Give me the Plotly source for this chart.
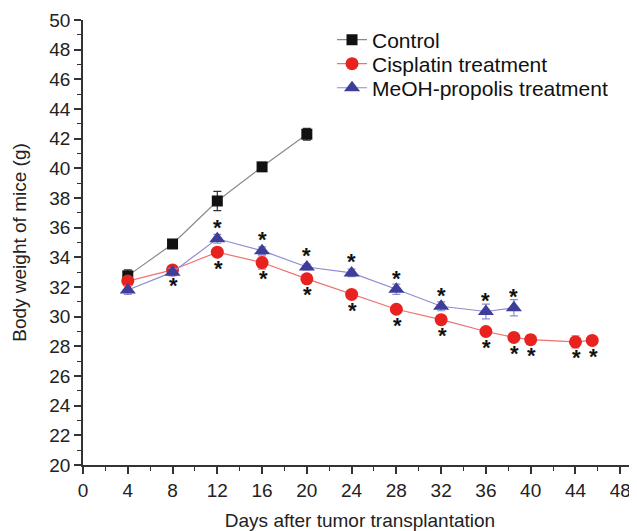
import plotly.graph_objects as go

# Data
control_days = [4, 8, 12, 16, 20]
control_vals = [32.75, 34.9, 37.8, 40.1, 42.3]
control_err = [0.4, 0.2, 0.65, 0.2, 0.4]

cis_days = [4, 8, 12, 16, 20, 24, 28, 32, 36, 38.5, 40, 44, 45.5]
cis_vals = [32.4, 33.15, 34.35, 33.65, 32.55, 31.5, 30.5, 29.8, 29.0, 28.6, 28.45, 28.3, 28.4]
cis_err = [0.25, 0.2, 0.3, 0.45, 0.25, 0.2, 0.2, 0.2, 0.2, 0.25, 0.3, 0.4, 0.2]

pro_days = [4, 8, 12, 16, 20, 24, 28, 32, 36, 38.5]
pro_vals = [31.8, 33.0, 35.25, 34.45, 33.35, 32.95, 31.85, 30.7, 30.35, 30.6]
pro_err = [0.3, 0.25, 0.3, 0.25, 0.2, 0.25, 0.35, 0.3, 0.5, 0.55]

# significance stars: propolis above, cisplatin below
pro_star_days = [12, 16, 20, 24, 28, 32, 36, 38.5]
cis_star_days = [8, 12, 16, 20, 24, 28, 32, 36, 38.5, 40, 44, 45.5]

x_ticks = list(range(0, 49, 4))
y_ticks = list(range(20, 51, 2))

fig = go.Figure()

fig.add_trace(go.Scatter(
    x=control_days, y=control_vals, name="Control", mode="lines+markers",
    line=dict(color="#8a8a8a", width=1.2),
    marker=dict(symbol="square", size=11, color="#111111"),
    error_y=dict(type="data", array=control_err, color="#333333", thickness=1.2, width=4),
    legend="legend",
))
fig.add_trace(go.Scatter(
    x=cis_days, y=cis_vals, name="Cisplatin treatment", mode="lines+markers",
    line=dict(color="#f07070", width=1.2),
    marker=dict(symbol="circle", size=13, color="#e8221e"),
    error_y=dict(type="data", array=cis_err, color="#f07070", thickness=1.2, width=4),
    legend="legend2",
))
fig.add_trace(go.Scatter(
    x=pro_days, y=pro_vals, name="MeOH-propolis treatment", mode="lines+markers",
    line=dict(color="#8c8cd0", width=1.2),
    marker=dict(symbol="triangle-up", size=14, color="#3d3d9a"),
    error_y=dict(type="data", array=pro_err, color="#8c8cd0", thickness=1.2, width=4),
    legend="legend3",
))

annotations = []
for d in pro_star_days:
    v = pro_vals[pro_days.index(d)]
    annotations.append(dict(x=d, y=v, text="<b>*</b>", showarrow=False, yshift=11,
                            font=dict(family="Arial", size=22, color="#111111")))
for d in cis_star_days:
    v = cis_vals[cis_days.index(d)]
    annotations.append(dict(x=d, y=v, text="<b>*</b>", showarrow=False, yshift=-16, xshift=1,
                            font=dict(family="Arial", size=22, color="#111111")))

leg_common = dict(x=0.4495, xanchor="left", yanchor="middle",
                  bgcolor="rgba(0,0,0,0)", font=dict(size=21, color="#111111"),
                  borderwidth=0)

# page has an 8px body margin; figure is sized so the plot area lands on the reference
fig.update_layout(
    width=629, height=523,
    margin=dict(l=75, r=0, t=12, b=66, autoexpand=False),
    paper_bgcolor="white", plot_bgcolor="white",
    font=dict(family="Arial", size=19, color="#222222"),
    showlegend=True,
    legend=dict(y=0.955, **leg_common),
    legend2=dict(y=0.901, **leg_common),
    legend3=dict(y=0.847, **leg_common),
    annotations=annotations,
    xaxis=dict(range=[0, 49.5], tickvals=x_ticks, showgrid=False, zeroline=False,
               showline=True, linecolor="#333333", linewidth=1.5, automargin=False,
               ticks="outside", ticklen=7, tickwidth=1.5, tickcolor="#333333",
               minor=dict(dtick=2, tick0=0, ticks="outside", ticklen=4, tickwidth=1.2, tickcolor="#333333"),
               title=dict(text="Days after tumor transplantation", font=dict(size=19), standoff=16),
               tickfont=dict(size=19)),
    yaxis=dict(range=[20, 50], tickvals=y_ticks, showgrid=False, zeroline=False,
               showline=True, linecolor="#333333", linewidth=1.5, automargin=False,
               ticks="outside", ticklen=7, tickwidth=1.5, tickcolor="#333333",
               minor=dict(dtick=1, tick0=20, ticks="outside", ticklen=4, tickwidth=1.2, tickcolor="#333333"),
               title=dict(text="Body weight of mice (g)", font=dict(size=19), standoff=18),
               tickfont=dict(size=19)),
)

fig.write_html("out.html")
